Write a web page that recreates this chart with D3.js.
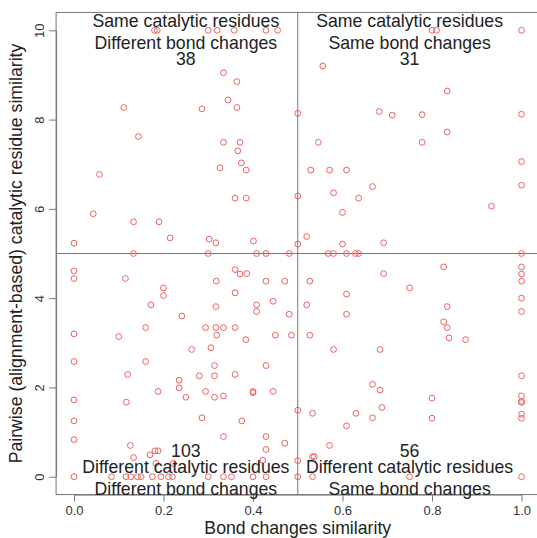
<!DOCTYPE html>
<html>
<head>
<meta charset="utf-8">
<script src="https://cdn.jsdelivr.net/npm/d3@7"></script>
<style>
  body { margin: 0; background: #fff; }
  svg { display: block; font-family: "Liberation Sans", Arial, Helvetica, sans-serif; }
  .tick line, .domain { stroke: #777; }
  .tick text { fill: #333; font-size: 13px; }
</style>
</head>
<body>
<svg width="537" height="538"></svg>
<script>
// points, [bond changes similarity, catalytic residue similarity]
const upperLeft = [
  [0.18,10],[0.186,10],[0.30,10],[0.32,10],[0.358,10],[0.429,10],[0.455,10],
  [0.334,9.05],[0.364,8.85],[0.344,8.44],[0.111,8.27],[0.286,8.24],[0.364,8.27],
  [0.144,7.62],[0.334,7.49],[0.371,7.49],[0.366,7.30],[0.374,7.03],[0.326,6.92],[0.385,6.87],[0.057,6.77],
  [0.36,6.24],[0.385,6.24],[0.043,5.89],[0.133,5.71],[0.19,5.71],[0.215,5.35],[0,5.23],[0.302,5.32],[0.317,5.24],[0.401,5.28],
  [0.133,5],[0.30,5],[0.408,5],[0.429,5],[0.481,5]
];
const upperRight = [
  [0.80,10],[0.81,10],[1,10],[0.556,9.20],[0.834,8.64],[0.682,8.18],[0.711,8.10],[0.778,8.11],[1,8.12],
  [0.834,7.72],[0.546,7.49],[0.778,7.49],[1,7.06],[0.529,6.87],[0.571,6.87],[0.609,6.87],[0.667,6.50],[1,6.53],
  [0.58,6.36],[0.636,6.24],[0.60,5.92],[0.933,6.06],[0.52,5.38],[0.60,5.21],[0.692,5.24],
  [0.568,5],[0.58,5],[0.609,5],[0.629,5],[0.636,5],[1,5]
];
const lowerLeft = [
  [0,4.61],[0,4.44],[0.115,4.44],[0.36,4.64],[0.371,4.54],[0.386,4.55],[0.318,4.38],[0.429,4.38],[0.471,4.38],
  [0.20,4.23],[0.20,4.06],[0.36,4.12],[0.172,3.85],[0.317,3.81],[0.408,3.85],[0.408,3.70],[0.445,3.93],[0.241,3.60],[0.481,3.64],
  [0.16,3.34],[0.294,3.34],[0.317,3.34],[0.334,3.34],[0.36,3.34],
  [0,3.20],[0.10,3.14],[0.319,3.17],[0.384,3.07],[0.45,3.17],[0.486,3.17],
  [0.263,2.85],[0.306,2.89],[0,2.58],[0.16,2.58],[0.314,2.49],[0.429,2.49],
  [0.12,2.29],[0.28,2.26],[0.314,2.26],[0.36,2.29],[0.235,2.16],[0.235,1.99],
  [0.188,1.91],[0.294,1.91],[0.40,1.91],[0.40,1.88],[0.445,1.91],
  [0,1.72],[0.117,1.67],[0.25,1.78],[0.314,1.78],[0.334,1.81],
  [0,1.25],[0.286,1.32],[0.375,1.25],[0,0.83],[0.334,0.90],[0.429,0.90],
  [0.126,0.70],[0.17,0.49],[0.181,0.58],[0.188,0.58],[0.429,0.61],[0.471,0.75],[0.133,0.43],[0.183,0.30],[0.222,0.30],[0.422,0.37],
  [0,0],[0.084,0],[0.116,0],[0.127,0],[0.142,0],[0.15,0],[0.175,0],[0.194,0],[0.211,0],[0.22,0],
  [0.30,0],[0.334,0],[0.352,0],[0.40,0],[0.429,0]
];
const lowerRight = [
  [0.826,4.70],[1,4.70],[1,4.54],[1,4.38],[0.692,4.55],[0.527,4.38],[0.75,4.23],[0.609,4.09],[1,4.0],
  [0.52,3.85],[0.834,3.81],[0.609,3.64],[1,3.70],[0.826,3.47],[0.834,3.34],
  [0.527,3.17],[0.838,3.11],[0.875,3.07],[0.58,2.85],[0.684,2.85],[1,2.26],[0.667,2.07],[0.684,1.94],
  [0.80,1.76],[1,1.81],[1,1.69],[1,1.66],[1,1.40],[1,1.31],[0.533,1.42],[0.63,1.42],[0.688,1.55],
  [0.667,1.32],[0.80,1.31],[0.609,1.14],[0.571,0.70],[0.533,0.45],[0.537,0.45],[0.533,0],[0.75,0],[1,0]
];
const onCutLine = [[0.5,8.14],[0.5,6.29],[0.5,5.21],[0.5,1.49],[0.5,0.36],[0.5,0]];

const xTicks = [0, 0.2, 0.4, 0.6, 0.8, 1.0];
const yTicks = [0, 2, 4, 6, 8, 10];
const xCut = 0.5;
const yCut = 5;

const quadrantCentre = [0.25, 0.75, 0.25, 0.75];
const quadrantCounts = ['38', '31', '103', '56'];
const catalyticText = ['Same catalytic residues', 'Same catalytic residues',
                       'Different catalytic residues', 'Different catalytic residues'];
const bondText = ['Different bond changes', 'Same bond changes',
                  'Different bond changes', 'Same bond changes'];

const svg = d3.select('svg');

// R style: 4% padding on each side of the data range
const x = d3.scaleLinear().domain([0, 1]).range([74, 521.5]);
const y = d3.scaleLinear().domain([0, 10]).range([476.7, 30.3]);

const boxLeft = x(-0.04), boxRight = x(1.04);
const boxTop = y(10.4), boxBottom = y(-0.4);

const xAxis = d3.axisBottom(x)
  .tickValues(xTicks)
  .tickFormat(d3.format('.1f'))
  .tickSize(7)
  .tickSizeOuter(0)
  .tickPadding(4);

svg.append('g')
  .attr('transform', `translate(0,${boxBottom})`)
  .call(xAxis);

const yAxisG = svg.append('g')
  .attr('transform', `translate(${boxLeft},0)`)
  .call(d3.axisLeft(y).tickValues(yTicks).tickSize(7).tickSizeOuter(0));

// tick labels parallel to the axis
yAxisG.selectAll('.tick text')
  .attr('x', 0)
  .attr('y', -11.8)
  .attr('dy', null)
  .attr('text-anchor', 'middle')
  .attr('transform', 'rotate(-90)');

// box
svg.append('rect')
  .attr('x', boxLeft).attr('y', boxTop)
  .attr('width', boxRight - boxLeft).attr('height', boxBottom - boxTop)
  .attr('fill', 'none')
  .attr('stroke', '#777')
  .attr('stroke-width', 1);

// cut lines
svg.append('line')
  .attr('x1', x(xCut)).attr('x2', x(xCut))
  .attr('y1', boxTop).attr('y2', boxBottom)
  .attr('stroke', '#777');
svg.append('line')
  .attr('x1', boxLeft).attr('x2', boxRight)
  .attr('y1', y(yCut)).attr('y2', y(yCut))
  .attr('stroke', '#777');

const allPoints = upperLeft.concat(upperRight, lowerLeft, lowerRight, onCutLine);

svg.append('g').selectAll('circle')
  .data(allPoints)
  .enter().append('circle')
    .attr('cx', d => x(d[0]))
    .attr('cy', d => y(d[1]))
    .attr('r', 2.9)
    .attr('fill', 'none')
    .attr('stroke', '#ef5f5f')
    .attr('stroke-width', 1);

// quadrant labels
const labelG = svg.append('g')
  .attr('font-size', '17.7px')
  .attr('fill', '#222')
  .attr('text-anchor', 'middle');

quadrantCentre.forEach((cx, i) => {
  const isTop = i < 2;
  const lines = isTop
    ? [[catalyticText[i], y(10) - 3.6], [bondText[i], y(10) + 18.4], [quadrantCounts[i], y(10) + 34.4]]
    : [[quadrantCounts[i], y(0) - 19.5], [catalyticText[i], y(0) - 3.5], [bondText[i], y(0) + 18]];
  lines.forEach(l => {
    labelG.append('text')
      .attr('x', x(cx))
      .attr('y', l[1])
      .text(l[0]);
  });
});

// axis titles
svg.append('text')
  .attr('x', (boxLeft + boxRight) / 2)
  .attr('y', 534)
  .attr('text-anchor', 'middle')
  .attr('font-size', '17.7px')
  .attr('fill', '#222')
  .text('Bond changes similarity');

svg.append('text')
  .attr('transform', `translate(22.4,${(boxTop + boxBottom) / 2}) rotate(-90)`)
  .attr('text-anchor', 'middle')
  .attr('font-size', '17.7px')
  .attr('fill', '#222')
  .text('Pairwise (alignment-based) catalytic residue similarity');
</script>
</body>
</html>
